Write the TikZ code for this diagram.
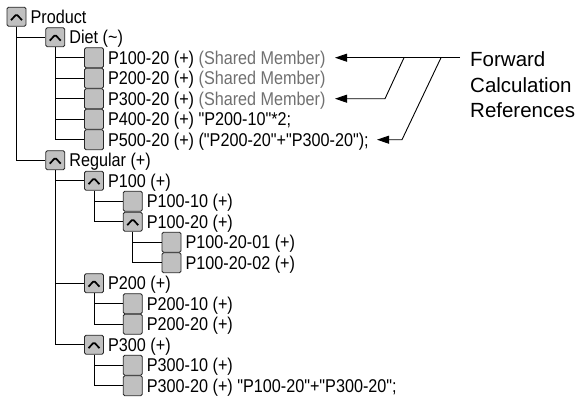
\documentclass[tikz,border=0pt]{standalone}
\usepackage{fontspec}
\setmainfont{Liberation Sans}
\newfontfamily\treefont[FakeStretch=0.875]{Liberation Sans}
\usetikzlibrary{arrows.meta}
\definecolor{boxfill}{RGB}{192,192,192}
\definecolor{boxline}{RGB}{40,40,40}
\definecolor{sharedgray}{RGB}{112,112,112}
\begin{document}
\begin{tikzpicture}[x=1pt,y=-1pt,
  leafbox/.style={draw=boxline, fill=boxfill, line width=0.9pt, rounded corners=1.5pt,
    minimum width=19pt, minimum height=20pt, inner sep=0pt},
  openbox/.style={leafbox, minimum height=19pt,
    path picture={\draw[line width=1.7pt, black, line join=miter]
      ([xshift=-5.5pt,yshift=-3.5pt]path picture bounding box.center) --
      ([yshift=2.5pt]path picture bounding box.center) --
      ([xshift=5.5pt,yshift=-3.5pt]path picture bounding box.center);}},
  itemtext/.style={anchor=base west, inner sep=0pt, font=\treefont\fontsize{18.5}{20}\selectfont},
  reftext/.style={anchor=base west, inner sep=0pt, font=\fontsize{20.5}{24}\selectfont},
  link/.style={draw, line width=0.8pt},
  ref/.style={line width=0.9pt, -{Triangle[length=12pt,width=8pt]}}
]
\useasboundingbox (0,0) rectangle (579,397);

\foreach \i/\l/\k/\t in {
  0/0/openbox/{Product},
  1/1/openbox/{Diet (\textasciitilde)},
  2/2/leafbox/{P100-20 (+) \textcolor{sharedgray}{(Shared Member)}},
  3/2/leafbox/{P200-20 (+) \textcolor{sharedgray}{(Shared Member)}},
  4/2/leafbox/{P300-20 (+) \textcolor{sharedgray}{(Shared Member)}},
  5/2/leafbox/{P400-20 (+) "P200-10"*2;},
  6/2/leafbox/{P500-20 (+) ("P200-20"+"P300-20");},
  7/1/openbox/{Regular (+)},
  8/2/openbox/{P100 (+)},
  9/3/leafbox/{P100-10 (+)},
  10/3/openbox/{P100-20 (+)},
  11/4/leafbox/{P100-20-01 (+)},
  12/4/leafbox/{P100-20-02 (+)},
  13/2/openbox/{P200 (+)},
  14/3/leafbox/{P200-10 (+)},
  15/3/leafbox/{P200-20 (+)},
  16/2/openbox/{P300 (+)},
  17/3/leafbox/{P300-10 (+)},
  18/3/leafbox/{P300-20 (+) "P100-20"+"P300-20";}}{
  \node[\k] (b\i) at ({16.5+38.75*\l},{16.7+20.5*\i}) {};
  \node[itemtext] (t\i) at ({30.5+38.75*\l},{16.7+20.5*\i+6.6}) {\t};
}

% tree connectors
\foreach \p/\c in {0/1,0/7,1/2,1/3,1/4,1/5,1/6,7/8,7/13,7/16,8/9,8/10,10/11,10/12,13/14,13/15,16/17,16/18}{
  \draw[link] (b\p.south) |- (b\c.west);
}

% label
\node[reftext] (fcr1) at (470,66.5) {Forward};
\node[reftext] (fcr2) at (470,92) {Calculation};
\node[reftext] (fcr3) at (470,117.5) {References};

\coordinate (hub) at (460,57.7);
\coordinate (tipA) at (335,57.7);
\coordinate (forkB) at (404,57.7);
\coordinate (bendB) at (385,98.7);
\coordinate (tipB) at (335,98.7);
\coordinate (forkC) at (441,57.7);
\coordinate (bendC) at (402,139.7);
\coordinate (tipC) at (377,139.7);
\draw[ref] (hub) -- (tipA);
\draw[ref] (forkB) -- (bendB) -- (tipB);
\draw[ref] (forkC) -- (bendC) -- (tipC);
\end{tikzpicture}
\end{document}
